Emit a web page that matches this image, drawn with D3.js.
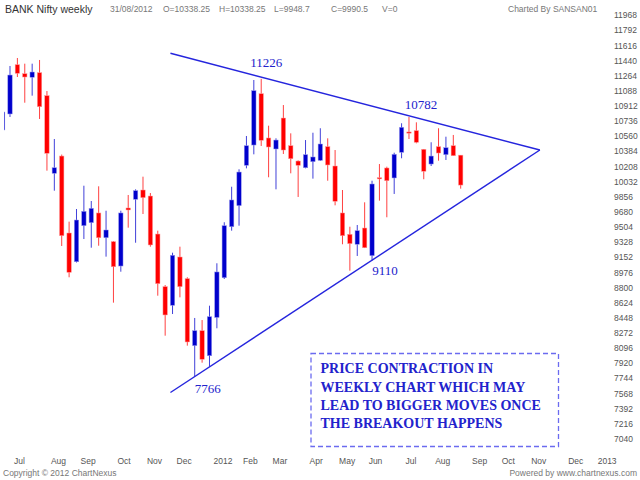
<!doctype html>
<html lang="en">
<head>
<meta charset="utf-8">
<title>BANK Nifty weekly</title>
<style>
body { margin: 0; background: #fff; }
svg { display: block; font-family: "Liberation Sans", Arial, sans-serif; }
.hdr { fill: #777; font-size: 8.5px; }
.axis text { fill: #555; font-size: 8.5px; }
.note { font-family: "Liberation Serif", "Times New Roman", serif; fill: #2222cc; }
</style>
</head>
<body>
<svg id="chart" width="640" height="480"></svg>
<script src="https://cdn.jsdelivr.net/npm/d3@7/dist/d3.min.js"></script>
<script>

// weekly candles, first week ending 24 Jun 2011, last 31 Aug 2012
var firstWeek = "2011-06-24";

var opens  = [10631, 10817, 11390, 11285, 11244, 11297, 11030, 10127, 10328, 9433,
              9099, 9518, 9553, 9666, 9378, 9332, 9049, 9724, 9825, 9933,
              9863, 9421, 8809, 8592, 9154, 8902, 8123, 8297, 8006, 8451,
              8913, 9506, 9751, 10220, 10456, 11053, 10538, 10410, 10770, 10448,
              10270, 10192, 10262, 10278, 10437, 10212, 9666, 9418, 9302, 9491,
              9169, 10076, 10189, 10073, 10371, 10608, 10623, 10406, 10235, 10437,
              10344, 10448, 10338.25];
var highs  = [10863, 11375, 11468, 11402, 11402, 11445, 11084, 10526, 10345, 9565,
              9712, 9983, 9805, 9976, 9692, 9340, 9692, 9875, 9941, 10088,
              9898, 9460, 8828, 9204, 9274, 8918, 8445, 8421, 8588, 9081,
              9558, 9971, 10174, 10561, 11212, 11226, 10681, 10534, 10921, 10592,
              10278, 10514, 10599, 10651, 10534, 10398, 9933, 9506, 9526, 9790,
              10041, 10235, 10204, 10367, 10709, 10782, 10720, 10410, 10488, 10651,
              10553, 10573, 10338.25];
var lows   = [10607, 10782, 11247, 10948, 11030, 10759, 10158, 9925, 9282, 8918,
              9090, 9363, 9262, 9285, 9158, 8623, 8983, 9495, 9320, 9654,
              9274, 8704, 8239, 8491, 8685, 8123, 7766, 7925, 7878, 8325,
              8898, 9460, 9518, 10185, 10348, 10445, 10081, 9941, 10352, 10127,
              9852, 10185, 10065, 10270, 10041, 9755, 9302, 8995, 9166, 9258,
              9110, 9809, 9616, 9887, 10302, 10526, 10476, 10058, 10212, 10274,
              10282, 10332, 9948.7];
var closes = [10840, 11270, 11290, 11247, 11305, 10902, 10360, 10192, 9402, 8976,
              9584, 9685, 9720, 9378, 9468, 9041, 9666, 9701, 9925, 9844,
              9294, 8844, 8480, 9174, 8809, 8166, 8297, 7965, 8460, 8980,
              9518, 9817, 10142, 10448, 11088, 10511, 10433, 10514, 10398, 10297,
              10220, 10344, 10317, 10468, 10224, 9802, 9402, 9309, 9460, 9262,
              10003, 10065, 10041, 10348, 10662, 10596, 10488, 10151, 10328, 10363,
              10425, 10332, 9990.5];

var priceTicks = [11968, 11792, 11616, 11440, 11264, 11088, 10912, 10736, 10560, 10384,
                  10208, 10032, 9856, 9680, 9504, 9328, 9152, 8976, 8800, 8624,
                  8448, 8272, 8096, 7920, 7744, 7568, 7392, 7216, 7040];
var monthWeeks  = ["2011-07-01", "2011-08-05", "2011-09-02", "2011-10-07", "2011-11-04",
                   "2011-12-02", "2012-01-06", "2012-02-03", "2012-03-02", "2012-04-06",
                   "2012-05-04", "2012-06-01", "2012-07-06", "2012-08-03", "2012-09-07",
                   "2012-10-05", "2012-11-02", "2012-12-07", "2013-01-04"];
var monthLabels = ["Jul", "Aug", "Sep", "Oct", "Nov", "Dec", "2012", "Feb", "Mar", "Apr",
                   "May", "Jun", "Jul", "Aug", "Sep", "Oct", "Nov", "Dec", "2013"];

// hand drawn triangle
var upperLine = [["2011-11-30", 11523], ["2012-11-14", 10398]];
var lowerLine = [["2011-11-30", 7578], ["2012-11-14", 10398]];

var noteLines = ["PRICE CONTRACTION IN", "WEEKLY CHART WHICH MAY",
                 "LEAD TO BIGGER MOVES ONCE", "THE BREAKOUT HAPPENS"];

var parse = d3.timeParse("%Y-%m-%d");
var start = parse(firstWeek);

var candles = opens.map(function(o, i) {
  return { date: d3.timeDay.offset(start, 7 * i), o: o, h: highs[i], l: lows[i], c: closes[i] };
});
var last = candles[candles.length - 1];

var x = d3.scaleTime()
    .domain([start, last.date])
    .range([2.61, 460.7]);

var y = d3.scaleLinear()
    .domain([7040, 11968])
    .range([438.8, 15]);

var svg = d3.select("#chart");
var blue = "#0000cc", red = "#ff0000";

// header
var fmt = d3.timeFormat("%d/%m/%Y");
svg.append("text").attr("x", 5).attr("y", 13).attr("fill", "#333")
  .style("font-size", "10.5px").text("BANK Nifty weekly");
var hdr = [
  [110, fmt(last.date)],
  [163, "O=" + last.o],
  [219, "H=" + last.h],
  [274, "L=" + last.l],
  [331, "C=" + last.c],
  [382, "V=0"]
];
svg.selectAll(".hdr").data(hdr).enter().append("text")
  .attr("class", "hdr").attr("x", function(d) { return d[0]; }).attr("y", 12)
  .text(function(d) { return d[1]; });
svg.append("text").attr("class", "hdr").attr("x", 508).attr("y", 12).attr("fill", "#999")
  .text("Charted By SANSAN01");

// price axis on the right, labels only
var yAxis = svg.append("g").attr("class", "axis")
  .attr("transform", "translate(612,0)")
  .call(d3.axisRight(y).tickValues(priceTicks).tickFormat(d3.format("d"))
    .tickSize(0).tickPadding(2));
yAxis.select(".domain").remove();
yAxis.selectAll("text").attr("dy", "0.32em");

// month axis
var xAxis = svg.append("g").attr("class", "axis")
  .attr("transform", "translate(0,455)");
xAxis.selectAll("text").data(monthWeeks).enter().append("text")
  .attr("x", function(d) { return x(parse(d)) + 4; })
  .attr("y", 9)
  .text(function(d, i) { return monthLabels[i]; });

svg.append("text").attr("class", "hdr").attr("fill", "#555").attr("x", 3).attr("y", 476)
  .text("Copyright \u00a9 2012 ChartNexus");
svg.append("text").attr("class", "hdr").attr("fill", "#555").attr("x", 637).attr("y", 476)
  .attr("text-anchor", "end").text("Powered by www.chartnexus.com");

// candles
svg.append("clipPath").attr("id", "plot")
  .append("rect").attr("x", 4).attr("y", 0).attr("width", 606).attr("height", 450);
var plot = svg.append("g").attr("clip-path", "url(#plot)");

var bw = 4.4;
var g = plot.selectAll(".candle").data(candles).enter().append("g")
  .attr("class", "candle");
g.append("line")
  .attr("x1", function(d) { return x(d.date); })
  .attr("x2", function(d) { return x(d.date); })
  .attr("y1", function(d) { return y(d.h); })
  .attr("y2", function(d) { return y(d.l); })
  .attr("stroke", function(d) { return d.c >= d.o ? blue : red; })
  .attr("stroke-opacity", 0.75)
  .attr("stroke-width", 1);
g.append("rect")
  .attr("x", function(d) { return x(d.date) - bw / 2; })
  .attr("y", function(d) { return y(Math.max(d.o, d.c)); })
  .attr("width", bw)
  .attr("height", function(d) { return Math.max(1.2, Math.abs(y(d.o) - y(d.c))); })
  .attr("fill", function(d) { return d.c >= d.o ? blue : red; })
  .attr("stroke", function(d) { return d.c >= d.o ? "#9999ee" : "#ff9999"; })
  .attr("stroke-width", 0.5);

// triangle
var tline = d3.line()
  .x(function(d) { return x(parse(d[0])); })
  .y(function(d) { return y(d[1]); });
[upperLine, lowerLine].forEach(function(pts) {
  svg.append("path").attr("d", tline(pts))
    .attr("fill", "none").attr("stroke", "#2525dd").attr("stroke-width", 1.4);
});

// swing labels
var swings = [
  [35, "h", 5, -12],
  [55, "h", 12, -8],
  [50, "l", 13, 14],
  [26, "l", 13, 17]
];
swings.forEach(function(s) {
  var d = candles[s[0]];
  var v = d[s[1]];
  svg.append("text").attr("class", "note")
    .attr("x", x(d.date) + s[2]).attr("y", y(v) + s[3])
    .attr("text-anchor", "middle")
    .style("font-size", "13px")
    .text(d3.format("d")(v));
});

// note box
svg.append("rect").attr("x", 311).attr("y", 353.5).attr("width", 247.5).attr("height", 93)
  .attr("fill", "none").attr("stroke", "#6b6bf0").attr("stroke-width", 1.3)
  .attr("stroke-dasharray", "5,3");
svg.selectAll(".boxline").data(noteLines).enter().append("text")
  .attr("class", "note")
  .attr("x", 320.5)
  .attr("y", function(d, i) { return 373.3 + i * 18.3; })
  .style("font-size", "14px").style("font-weight", "bold")
  .text(function(d) { return d; });

</script>
</body>
</html>
